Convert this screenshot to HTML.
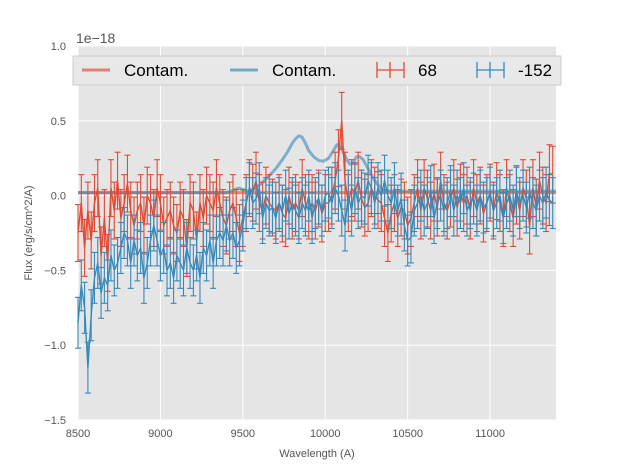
<!DOCTYPE html>
<html><head><meta charset="utf-8"><style>
body{margin:0;background:#fff;}
svg text{font-family:"Liberation Sans",sans-serif;}
</style></head><body>
<svg id="chart" width="617" height="467" xmlns="http://www.w3.org/2000/svg">
<rect x="78" y="46" width="478" height="374" fill="#E5E5E5"/>
<g id="grid"></g><g id="marks"></g><g id="axes"></g>
<text x="76" y="43" font-size="14" fill="#555">1e−18</text>
<text transform="translate(32,233) rotate(-90)" font-size="11" fill="#555" text-anchor="middle">Flux (erg/s/cm^2/A)</text>
<text x="317" y="457" font-size="11" fill="#555" text-anchor="middle">Wavelength (A)</text>
<g>
<rect x="73" y="56" width="488" height="29" fill="#E8E8E8" stroke="#ccc" stroke-width="1"/>
<g><line x1="82" y1="70" x2="110" y2="70" stroke="#E24A33" stroke-opacity="0.65" stroke-width="3"/><text x="124" y="76" font-size="17">Contam.</text></g>
<g><line x1="230" y1="70" x2="258" y2="70" stroke="#348ABD" stroke-opacity="0.65" stroke-width="3"/><text x="272" y="76" font-size="17">Contam.</text></g>
<g stroke="#E24A33" stroke-width="1.3"><line x1="377" y1="70" x2="404" y2="70"/><line x1="377" y1="62" x2="377" y2="78"/><line x1="404" y1="62" x2="404" y2="78"/><line x1="390" y1="62" x2="390" y2="78"/><text x="418" y="76" font-size="17" stroke="none" fill="#000">68</text></g>
<g stroke="#348ABD" stroke-width="1.3"><line x1="477" y1="70" x2="504" y2="70"/><line x1="477" y1="62" x2="477" y2="78"/><line x1="504" y1="62" x2="504" y2="78"/><line x1="490" y1="62" x2="490" y2="78"/><text x="518" y="76" font-size="17" stroke="none" fill="#000">-152</text></g>
</g>
</svg>
<script>
const xStart=8500, xStep=20;
const redVals=[-0.25,-0.05,-0.35,-0.1,-0.3,-0.05,0.05,-0.4,-0.15,-0.45,
0.05,-0.1,0.1,-0.15,-0.05,0.08,-0.1,-0.2,-0.1,-0.05,
-0.2,0.0,-0.05,-0.15,0.05,-0.05,-0.2,-0.15,-0.1,-0.2,
-0.25,-0.1,-0.15,-0.35,-0.05,-0.1,-0.3,-0.05,-0.15,0.0,
-0.05,-0.1,0.05,-0.05,-0.15,-0.2,-0.1,-0.05,-0.15,-0.25,
-0.15,-0.05,0.05,0.02,0.1,-0.05,-0.1,0.0,-0.05,-0.08,
-0.1,-0.05,-0.12,-0.15,0.0,-0.1,-0.05,-0.1,0.05,-0.05,
-0.1,-0.05,-0.1,-0.02,-0.12,-0.05,-0.05,0.0,0.1,0.25,
0.5,0.1,-0.05,0.05,0.02,0.1,-0.02,-0.08,-0.05,0.05,
0.0,-0.03,-0.05,-0.15,-0.25,-0.12,-0.05,-0.15,-0.08,-0.1,
-0.2,-0.15,-0.05,0.05,-0.1,0.05,-0.02,-0.1,0.02,-0.08,
0.1,-0.05,-0.1,-0.02,0.05,-0.08,0.02,-0.05,0.0,-0.1,
0.05,-0.05,0.0,-0.12,-0.05,0.02,-0.1,0.03,-0.05,-0.15,
0.05,-0.05,-0.15,0.0,-0.1,0.05,-0.02,-0.2,0.05,-0.08,
0.1,0.0,-0.05,0.15,0.14];
const blueVals=[-0.85,-0.6,-0.75,-1.15,-0.8,-0.55,-0.45,-0.65,-0.55,-0.6,
-0.4,-0.5,-0.45,-0.35,-0.25,-0.3,-0.45,-0.3,-0.4,-0.35,
-0.55,-0.45,-0.3,-0.2,-0.3,-0.4,-0.35,-0.5,-0.45,-0.55,
-0.4,-0.45,-0.5,-0.35,-0.45,-0.5,-0.4,-0.55,-0.35,-0.4,
-0.3,-0.45,-0.3,-0.25,-0.3,-0.2,-0.3,-0.25,-0.35,-0.3,
-0.2,-0.05,0.05,-0.05,-0.02,0.05,-0.15,-0.05,-0.1,-0.08,
-0.15,-0.05,-0.1,0.0,-0.12,-0.05,-0.1,-0.15,-0.05,-0.1,
0.0,-0.15,-0.05,-0.02,-0.1,0.0,0.02,-0.05,0.05,0.0,
-0.1,-0.2,0.0,-0.1,0.05,-0.05,0.0,-0.02,0.1,0.05,
-0.05,0.05,0.0,0.1,0.0,-0.05,0.05,-0.1,-0.02,-0.2,
-0.3,-0.28,-0.1,-0.05,0.0,-0.1,-0.05,0.03,-0.15,-0.05,
0.0,-0.1,-0.05,0.03,-0.1,0.0,-0.05,0.05,-0.1,-0.05,
-0.02,-0.1,0.0,-0.08,-0.05,0.02,-0.1,-0.05,0.0,-0.15,
-0.05,0.0,-0.1,0.03,-0.05,0.0,-0.08,0.02,-0.05,-0.1,
0.0,-0.05,0.02,-0.03,-0.05];
const redErr=0.19, blueErr=0.17;
const contamBlueX=[8500,9400,9430,9460,9480,9500,9530,9560,9600,9650,9700,9740,9770,9800,9820,9840,9860,9880,9900,9930,9960,9990,10020,10050,10070,10090,10110,10130,10150,10170,10190,10210,10230,10260,10300,10350,11400];
const contamBlueY=[0.02,0.02,0.03,0.045,0.05,0.04,0.03,0.04,0.07,0.12,0.18,0.24,0.29,0.35,0.38,0.4,0.39,0.35,0.3,0.26,0.235,0.23,0.25,0.3,0.34,0.33,0.29,0.24,0.21,0.22,0.26,0.26,0.24,0.18,0.1,0.03,0.03];
const contamRedX=[8500,11400];
const contamRedY=[0.02,0.02];
const xTicks=[8500,9000,9500,10000,10500,11000];
const yTicks=[-1.5,-1.0,-0.5,0.0,0.5,1.0];
const yTickLabels=["−1.5","−1.0","−0.5","0.0","0.5","1.0"];

const X0=78,X1=556,Y0=420,Y1=46,xmin=8500,xmax=11400,ymin=-1.5,ymax=1.0;
const sx=v=>X0+(v-xmin)/(xmax-xmin)*(X1-X0);
const sy=v=>Y0-(v-ymin)/(ymax-ymin)*(Y0-Y1);
const NS="http://www.w3.org/2000/svg";
function mk(tag,attrs,parent){const e=document.createElementNS(NS,tag);for(const k in attrs)e.setAttribute(k,attrs[k]);parent.appendChild(e);return e;}
const grid=document.getElementById('grid'),marks=document.getElementById('marks'),axes=document.getElementById('axes');
xTicks.forEach(t=>{const l=mk('line',{x1:sx(t),x2:sx(t),y1:Y1,y2:Y0,stroke:'#fff','stroke-width':1},grid);


const tx=mk('text',{x:sx(t),y:437,'font-size':11,fill:'#555','text-anchor':'middle'},axes);tx.textContent=t;

});
yTicks.forEach((t,i)=>{const l=mk('line',{x1:X0,x2:X1,y1:sy(t),y2:sy(t),stroke:'#fff','stroke-width':1},grid);


const tx=mk('text',{x:X0-12,y:sy(t)+4,'font-size':11,fill:'#555','text-anchor':'end'},axes);tx.textContent=yTickLabels[i];

});
function line(xs,ys,color,w,op,name){const p=mk('polyline',{points:xs.map((x,i)=>sx(x)+','+sy(ys[i])).join(' '),fill:'none',stroke:color,'stroke-width':w,'stroke-opacity':op,'stroke-linejoin':'round'},marks);

}
function errSeries(vals,err,color,name){const xs=vals.map((v,i)=>xStart+i*xStep);
const g=mk('g',{stroke:color,'stroke-width':1.1},marks);


vals.forEach((v,i)=>{const x=sx(xs[i]);mk('line',{x1:x,x2:x,y1:sy(v-err),y2:sy(v+err)},g);
mk('line',{x1:x-3,x2:x+3,y1:sy(v-err),y2:sy(v-err)},g);mk('line',{x1:x-3,x2:x+3,y1:sy(v+err),y2:sy(v+err)},g);});
line(xs,vals,color,1.4,1,name+'-line');}
line(contamRedX,contamRedY,'#E24A33',3,0.6,'contam-red-line');
line(contamBlueX,contamBlueY,'#348ABD',3,0.6,'contam-blue-line');
errSeries(redVals,redErr,'#E24A33','series-68');
errSeries(blueVals,blueErr,'#348ABD','series-minus152');
</script>
</body></html>
